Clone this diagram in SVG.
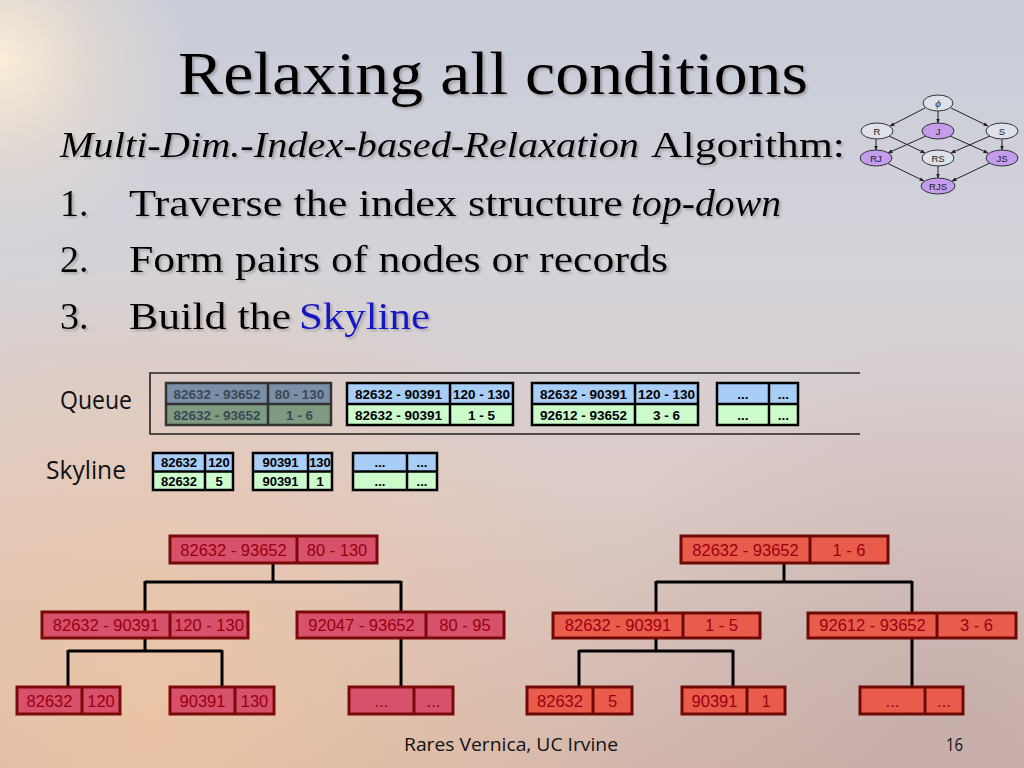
<svg xmlns="http://www.w3.org/2000/svg" width="1024" height="768" viewBox="0 0 1024 768">
<defs>
  <linearGradient id="bg" x1="0" y1="0" x2="0" y2="1">
    <stop offset="0" stop-color="#c8ccd9"/>
    <stop offset="0.35" stop-color="#d4d3d9"/>
    <stop offset="0.65" stop-color="#dccac6"/>
    <stop offset="1" stop-color="#d4b7ab"/>
  </linearGradient>
  <radialGradient id="glow1" cx="0" cy="60" r="190" gradientUnits="userSpaceOnUse">
    <stop offset="0" stop-color="#fdf0d8" stop-opacity="0.95"/>
    <stop offset="0.5" stop-color="#f5e2cc" stop-opacity="0.45"/>
    <stop offset="1" stop-color="#f5e2cc" stop-opacity="0"/>
  </radialGradient>
  <radialGradient id="glow2" cx="150" cy="720" r="480" gradientUnits="userSpaceOnUse">
    <stop offset="0" stop-color="#f2c7a2" stop-opacity="0.75"/>
    <stop offset="1" stop-color="#f2c7a2" stop-opacity="0"/>
  </radialGradient>
  <radialGradient id="glow3" cx="950" cy="720" r="380" gradientUnits="userSpaceOnUse">
    <stop offset="0" stop-color="#b8a2a6" stop-opacity="0.5"/>
    <stop offset="1" stop-color="#b8a2a6" stop-opacity="0"/>
  </radialGradient>
  <filter id="shadow" x="-5%" y="-20%" width="110%" height="150%">
    <feDropShadow dx="2" dy="2" stdDeviation="0.8" flood-color="#707070" flood-opacity="0.45"/>
  </filter>
  <marker id="arr" viewBox="0 0 10 10" refX="9" refY="5" markerWidth="5" markerHeight="5" orient="auto">
    <path d="M0,1 L10,5 L0,9 Z" fill="#222"/>
  </marker>
  <style>
    .serif{font-family:"Liberation Serif","DejaVu Serif",serif;fill:#000}
    .it{font-style:italic}
    .sans{font-family:"Open Sans","DejaVu Sans","Liberation Sans",sans-serif;fill:#111}
    .cell{font-family:"Liberation Sans",Arial,sans-serif;font-weight:bold;font-size:13.5px;text-anchor:middle;fill:#000}
    .cells{font-family:"Liberation Sans",Arial,sans-serif;font-weight:bold;font-size:13px;text-anchor:middle;fill:#000}
    .cellg{font-family:"Liberation Sans",Arial,sans-serif;font-weight:bold;font-size:13.5px;text-anchor:middle;fill:#3b4856}
    .qb{stroke:#000;stroke-width:2.5}
    .qg{stroke:#333;stroke-width:2.5}
    .blue{fill:#a8cdf6}
    .green{fill:#ccfbcc}
    .gblue{fill:#7b8fa7}
    .ggreen{fill:#7e9a81}
    .tl{fill:#d8516a;stroke:#7a0a0a;stroke-width:3}
    .tr{fill:#e95c4b;stroke:#6e0a06;stroke-width:3}
    .tt{font-family:"Liberation Sans",Arial,sans-serif;font-size:16.5px;text-anchor:middle;fill:#9a0010}
    .conn{stroke:#000;stroke-width:3;fill:none}
    .ln{fill:#dfe1e8;stroke:#333;stroke-width:1}
    .lp{fill:#c39cec;stroke:#333;stroke-width:1}
    .lt{font-family:"Liberation Sans",Arial,sans-serif;font-size:9.5px;text-anchor:middle;fill:#222}
    .le{stroke:#222;stroke-width:1;marker-end:url(#arr)}
  </style>
</defs>

<!-- background -->
<rect width="1024" height="768" fill="url(#bg)"/>
<rect width="1024" height="768" fill="url(#glow2)"/>
<rect width="1024" height="768" fill="url(#glow3)"/>
<rect width="1024" height="768" fill="url(#glow1)"/>

<!-- title and text -->
<g filter="url(#shadow)">
  <text class="serif" x="178" y="94" font-size="62" textLength="630" lengthAdjust="spacingAndGlyphs">Relaxing all conditions</text>
  <text class="serif it" x="60" y="157" font-size="36" textLength="579" lengthAdjust="spacingAndGlyphs">Multi-Dim.-Index-based-Relaxation</text>
  <text class="serif" x="651" y="157" font-size="36" textLength="194" lengthAdjust="spacingAndGlyphs">Algorithm:</text>
  <text class="serif" x="60" y="216" font-size="38">1.</text>
  <text class="serif" x="129" y="216" font-size="38" textLength="494" lengthAdjust="spacingAndGlyphs">Traverse the index structure</text>
  <text class="serif it" x="631" y="216" font-size="38" textLength="150" lengthAdjust="spacingAndGlyphs">top-down</text>
  <text class="serif" x="60" y="272" font-size="38">2.</text>
  <text class="serif" x="129" y="272" font-size="38" textLength="539" lengthAdjust="spacingAndGlyphs">Form pairs of nodes or records</text>
  <text class="serif" x="60" y="329" font-size="38">3.</text>
  <text class="serif" x="129" y="329" font-size="38" textLength="162" lengthAdjust="spacingAndGlyphs">Build the</text>
  <text class="serif" x="299" y="329" font-size="38" style="fill:#1212c4" textLength="131" lengthAdjust="spacingAndGlyphs">Skyline</text>
</g>

<!-- lattice -->
<g id="lattice-edges">
  <line class="le" x1="925" y1="108" x2="890" y2="126"/>
  <line class="le" x1="938" y1="111" x2="938" y2="123"/>
  <line class="le" x1="951" y1="108" x2="988" y2="126"/>
  <line class="le" x1="876" y1="139" x2="876" y2="150"/>
  <line class="le" x1="889" y1="136" x2="925" y2="153"/>
  <line class="le" x1="926" y1="136" x2="888" y2="153"/>
  <line class="le" x1="950" y1="136" x2="988" y2="153"/>
  <line class="le" x1="990" y1="136" x2="951" y2="153"/>
  <line class="le" x1="1002" y1="139" x2="1002" y2="150"/>
  <line class="le" x1="887" y1="163" x2="924" y2="181"/>
  <line class="le" x1="938" y1="166" x2="938" y2="178"/>
  <line class="le" x1="990" y1="163" x2="952" y2="181"/>
</g>
<g id="l-phi"><ellipse class="ln" cx="938" cy="103" rx="15" ry="8"/><text x="938" y="107" font-family="Liberation Serif,serif" font-style="italic" font-size="11" text-anchor="middle" fill="#222">ϕ</text></g>
<g id="l-R"><ellipse class="ln" cx="877" cy="131" rx="16" ry="8"/><text class="lt" x="877" y="134.5">R</text></g>
<g id="l-J"><ellipse class="lp" cx="938" cy="131" rx="16" ry="8"/><text class="lt" x="938" y="134.5">J</text></g>
<g id="l-S"><ellipse class="ln" cx="1002" cy="131" rx="16" ry="8"/><text class="lt" x="1002" y="134.5">S</text></g>
<g id="l-RJ"><ellipse class="lp" cx="876" cy="158" rx="16" ry="8"/><text class="lt" x="876" y="161.5">RJ</text></g>
<g id="l-RS"><ellipse class="ln" cx="938" cy="158" rx="16" ry="8"/><text class="lt" x="938" y="161.5">RS</text></g>
<g id="l-JS"><ellipse class="lp" cx="1002" cy="158" rx="16" ry="8"/><text class="lt" x="1002" y="161.5">JS</text></g>
<g id="l-RJS"><ellipse class="lp" cx="938" cy="186" rx="17" ry="8"/><text class="lt" x="938" y="189.5">RJS</text></g>

<!-- labels -->
<text class="sans" x="60" y="409" font-size="25" textLength="72" lengthAdjust="spacingAndGlyphs">Queue</text>
<text class="sans" x="46" y="479" font-size="25" textLength="80" lengthAdjust="spacingAndGlyphs">Skyline</text>

<!-- queue frame -->
<path d="M860 373 H150 V434 H860" fill="none" stroke="#222" stroke-width="1.6"/>

<!-- queue entries -->
<g id="q1">
  <rect class="gblue" x="166" y="383" width="165" height="21"/>
  <rect class="ggreen" x="166" y="404" width="165" height="21"/>
  <rect x="166" y="383" width="165" height="42" fill="none" class="qg"/>
  <line class="qg" x1="166" y1="404" x2="331" y2="404"/>
  <line class="qg" x1="268" y1="383" x2="268" y2="425"/>
  <text class="cellg" x="217" y="398.5">82632 - 93652</text>
  <text class="cellg" x="299.5" y="398.5">80 - 130</text>
  <text class="cellg" x="217" y="419.5">82632 - 93652</text>
  <text class="cellg" x="299.5" y="419.5">1 - 6</text>
</g>
<g id="q2">
  <rect class="blue" x="347" y="383" width="166" height="21"/>
  <rect class="green" x="347" y="404" width="166" height="21"/>
  <rect x="347" y="383" width="166" height="42" fill="none" class="qb"/>
  <line class="qb" x1="347" y1="404" x2="513" y2="404"/>
  <line class="qb" x1="450" y1="383" x2="450" y2="425"/>
  <text class="cell" x="398.5" y="398.5">82632 - 90391</text>
  <text class="cell" x="481.5" y="398.5">120 - 130</text>
  <text class="cell" x="398.5" y="419.5">82632 - 90391</text>
  <text class="cell" x="481.5" y="419.5">1 - 5</text>
</g>
<g id="q3">
  <rect class="blue" x="532" y="383" width="166" height="21"/>
  <rect class="green" x="532" y="404" width="166" height="21"/>
  <rect x="532" y="383" width="166" height="42" fill="none" class="qb"/>
  <line class="qb" x1="532" y1="404" x2="698" y2="404"/>
  <line class="qb" x1="635" y1="383" x2="635" y2="425"/>
  <text class="cell" x="583.5" y="398.5">82632 - 90391</text>
  <text class="cell" x="666.5" y="398.5">120 - 130</text>
  <text class="cell" x="583.5" y="419.5">92612 - 93652</text>
  <text class="cell" x="666.5" y="419.5">3 - 6</text>
</g>
<g id="q4">
  <rect class="blue" x="717" y="383" width="81" height="21"/>
  <rect class="green" x="717" y="404" width="81" height="21"/>
  <rect x="717" y="383" width="81" height="42" fill="none" class="qb"/>
  <line class="qb" x1="717" y1="404" x2="798" y2="404"/>
  <line class="qb" x1="769" y1="383" x2="769" y2="425"/>
  <text class="cell" x="743" y="398.5">...</text>
  <text class="cell" x="783.5" y="398.5">...</text>
  <text class="cell" x="743" y="419.5">...</text>
  <text class="cell" x="783.5" y="419.5">...</text>
</g>

<!-- skyline entries -->
<g id="s1">
  <rect class="blue" x="153" y="453" width="80" height="18.5"/>
  <rect class="green" x="153" y="471.5" width="80" height="18.5"/>
  <rect x="153" y="453" width="80" height="37" fill="none" class="qb"/>
  <line class="qb" x1="153" y1="471.5" x2="233" y2="471.5"/>
  <line class="qb" x1="205" y1="453" x2="205" y2="490"/>
  <text class="cells" x="179" y="467">82632</text>
  <text class="cells" x="219" y="467">120</text>
  <text class="cells" x="179" y="485.5">82632</text>
  <text class="cells" x="219" y="485.5">5</text>
</g>
<g id="s2">
  <rect class="blue" x="253" y="453" width="79" height="18.5"/>
  <rect class="green" x="253" y="471.5" width="79" height="18.5"/>
  <rect x="253" y="453" width="79" height="37" fill="none" class="qb"/>
  <line class="qb" x1="253" y1="471.5" x2="332" y2="471.5"/>
  <line class="qb" x1="308" y1="453" x2="308" y2="490"/>
  <text class="cells" x="280.5" y="467">90391</text>
  <text class="cells" x="320" y="467">130</text>
  <text class="cells" x="280.5" y="485.5">90391</text>
  <text class="cells" x="320" y="485.5">1</text>
</g>
<g id="s3">
  <rect class="blue" x="353" y="453" width="84" height="18.5"/>
  <rect class="green" x="353" y="471.5" width="84" height="18.5"/>
  <rect x="353" y="453" width="84" height="37" fill="none" class="qb"/>
  <line class="qb" x1="353" y1="471.5" x2="437" y2="471.5"/>
  <line class="qb" x1="407" y1="453" x2="407" y2="490"/>
  <text class="cells" x="380" y="467">...</text>
  <text class="cells" x="422" y="467">...</text>
  <text class="cells" x="380" y="485.5">...</text>
  <text class="cells" x="422" y="485.5">...</text>
</g>

<!-- tree connectors -->
<g id="connectors">
  <path class="conn" d="M273 563 V582 M145 582 H401 M145 581 V612 M401 581 V612 M145 638 V651 M68 651 H222 M68 650 V687 M222 650 V687 M401 638 V687"/>
  <path class="conn" d="M784 563 V582 M656 582 H912 M656 581 V613 M912 581 V613 M656 638 V651 M579 651 H733 M579 650 V687 M733 650 V687 M912 638 V687"/>
</g>

<!-- left tree -->
<g id="L-root">
  <rect class="tl" x="170" y="536" width="207" height="27"/><line class="tl" x1="297" y1="536" x2="297" y2="563"/>
  <text class="tt" x="233.5" y="555.5">82632 - 93652</text><text class="tt" x="337" y="555.5">80 - 130</text>
</g>
<g id="L-a">
  <rect class="tl" x="42" y="612" width="206" height="26"/><line class="tl" x1="170" y1="612" x2="170" y2="638"/>
  <text class="tt" x="106" y="631">82632 - 90391</text><text class="tt" x="209" y="631">120 - 130</text>
</g>
<g id="L-b">
  <rect class="tl" x="297" y="612" width="207" height="26"/><line class="tl" x1="426" y1="612" x2="426" y2="638"/>
  <text class="tt" x="361.5" y="631">92047 - 93652</text><text class="tt" x="465" y="631">80 - 95</text>
</g>
<g id="L-c">
  <rect class="tl" x="17" y="687" width="103" height="27"/><line class="tl" x1="82" y1="687" x2="82" y2="714"/>
  <text class="tt" x="49.5" y="706.5">82632</text><text class="tt" x="101" y="706.5">120</text>
</g>
<g id="L-d">
  <rect class="tl" x="170" y="687" width="104" height="27"/><line class="tl" x1="235" y1="687" x2="235" y2="714"/>
  <text class="tt" x="202.5" y="706.5">90391</text><text class="tt" x="254.5" y="706.5">130</text>
</g>
<g id="L-e">
  <rect class="tl" x="349" y="687" width="104" height="27"/><line class="tl" x1="414" y1="687" x2="414" y2="714"/>
  <text class="tt" x="381.5" y="706.5">...</text><text class="tt" x="433.5" y="706.5">...</text>
</g>

<!-- right tree -->
<g id="R-root">
  <rect class="tr" x="681" y="536" width="207" height="27"/><line class="tr" x1="810" y1="536" x2="810" y2="563"/>
  <text class="tt" x="745.5" y="555.5">82632 - 93652</text><text class="tt" x="849" y="555.5">1 - 6</text>
</g>
<g id="R-a">
  <rect class="tr" x="553" y="613" width="207" height="25"/><line class="tr" x1="683" y1="613" x2="683" y2="638"/>
  <text class="tt" x="618" y="631">82632 - 90391</text><text class="tt" x="721.5" y="631">1 - 5</text>
</g>
<g id="R-b">
  <rect class="tr" x="808" y="613" width="208" height="25"/><line class="tr" x1="937" y1="613" x2="937" y2="638"/>
  <text class="tt" x="872.5" y="631">92612 - 93652</text><text class="tt" x="976.5" y="631">3 - 6</text>
</g>
<g id="R-c">
  <rect class="tr" x="527" y="687" width="105" height="27"/><line class="tr" x1="593" y1="687" x2="593" y2="714"/>
  <text class="tt" x="560" y="706.5">82632</text><text class="tt" x="612.5" y="706.5">5</text>
</g>
<g id="R-d">
  <rect class="tr" x="682" y="687" width="103" height="27"/><line class="tr" x1="747" y1="687" x2="747" y2="714"/>
  <text class="tt" x="714.5" y="706.5">90391</text><text class="tt" x="766" y="706.5">1</text>
</g>
<g id="R-e">
  <rect class="tr" x="860" y="687" width="103" height="27"/><line class="tr" x1="925" y1="687" x2="925" y2="714"/>
  <text class="tt" x="892.5" y="706.5">...</text><text class="tt" x="944" y="706.5">...</text>
</g>

<!-- footer -->
<text class="sans" x="404" y="751" font-size="19" textLength="214" lengthAdjust="spacingAndGlyphs">Rares Vernica, UC Irvine</text>
<text class="sans" x="946" y="751" font-size="18" textLength="17" lengthAdjust="spacingAndGlyphs">16</text>
</svg>
